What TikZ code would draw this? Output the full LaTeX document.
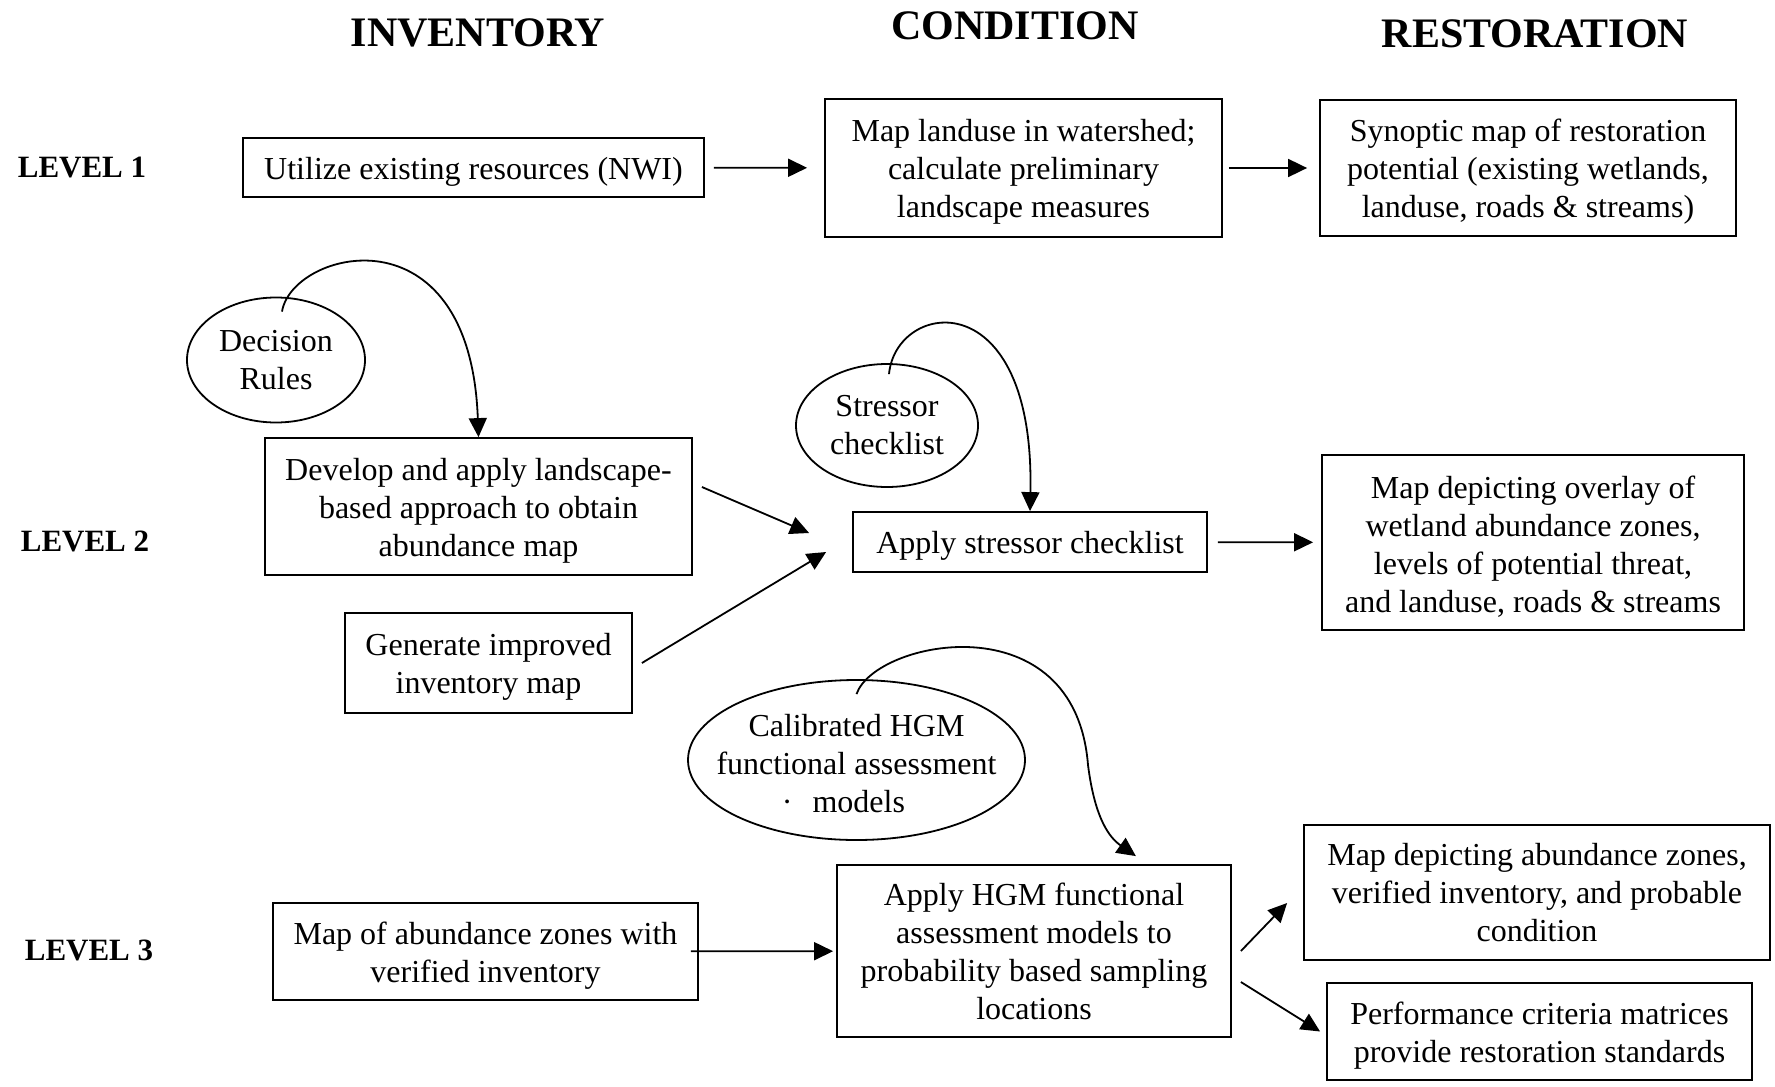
\documentclass[tikz,border=0pt]{standalone}
\usepackage{fontspec}
\setmainfont{Liberation Serif}
\usetikzlibrary{shapes.geometric,arrows.meta,positioning}
% taller first line, sets the text a little lower in its box
\newcommand{\lowr}{\rule{0pt}{15pt}}

\begin{document}
\begin{tikzpicture}
  [
    x=0.5pt, y=-0.5pt,
    stage/.style={draw, rectangle, line width=0.9pt, align=center, inner sep=1pt, font=\fontsize{16}{19}\selectfont},
    guide/.style={draw, ellipse, line width=0.9pt, align=center, inner sep=-20pt, font=\fontsize{16}{19}\selectfont},
    heading/.style={font=\fontsize{21}{25}\selectfont\bfseries},
    lvl/.style={font=\fontsize{15.5}{18}\selectfont\bfseries},
    flow/.style={->, line width=0.9pt, >={Triangle[length=9.5pt,width=9pt]}},
  ]
  \useasboundingbox (0,0) rectangle (1775,1086);

  \node (inv) [heading] at (478,33) {INVENTORY};
  \node (cond) [heading] at (1015,26) {CONDITION};
  \node (rest) [heading] at (1535,34) {RESTORATION};

  \node (lv1) [lvl] at (82,168) {LEVEL 1};
  \node (lv2) [lvl] at (85,541) {LEVEL 2};
  \node (lv3) [lvl] at (89,950) {LEVEL 3};

  % level 1
  \node (u1) [stage, minimum width=230.5pt, minimum height=29.5pt] at (473.5,167.5) {\lowr Utilize existing resources (NWI)};
  \node (c1) [stage, minimum width=198.5pt, minimum height=69pt] at (1023.5,168) {\lowr Map landuse in watershed;\\calculate preliminary\\landscape measures};
  \node (r1) [stage, minimum width=208pt, minimum height=68pt] at (1528,168) {\lowr Synoptic map of restoration\\potential (existing wetlands,\\landuse, roads \& streams)};

  % level 2
  \node (dr) [guide, minimum width=89pt, minimum height=62.5pt] at (276,360) {Decision\\Rules};
  \node (d2) [stage, minimum width=213.5pt, minimum height=68.5pt] at (478.5,506.5) {\lowr Develop and apply landscape-\\based approach to obtain\\abundance map};
  \node (g2) [stage, minimum width=143.5pt, minimum height=50pt] at (488.5,663) {\lowr Generate improved\\inventory map};
  \node (sc) [guide, minimum width=91pt, minimum height=61.5pt] at (887,425.5) {Stressor\\checklist};
  \node (a2) [stage, minimum width=177pt, minimum height=30pt] at (1030,542) {\lowr Apply stressor checklist};
  \node (r2) [stage, minimum width=211pt, minimum height=87.5pt] at (1533,542.5) {\lowr Map depicting overlay of\\wetland abundance zones,\\levels of potential threat,\\and landuse, roads \& streams};

  % level 3
  \node (hgm) [guide, minimum width=168.5pt, minimum height=80pt] at (856.5,760) {\lowr Calibrated HGM\\functional assessment\\·\hspace{10pt}models\hspace*{13pt}};
  \node (m3) [stage, minimum width=212.5pt, minimum height=48.5pt] at (485.5,951.5) {\lowr Map of abundance zones with\\verified inventory};
  \node (a3) [stage, minimum width=197pt, minimum height=86pt] at (1034,951) {Apply HGM functional\\assessment models to\\probability based sampling\\locations};
  \node (r3a) [stage, minimum width=233pt, minimum height=67.5pt] at (1537,892.5) {Map depicting abundance zones,\\verified inventory, and probable\\condition};
  \node (r3b) [stage, minimum width=212.5pt, minimum height=48.5pt] at (1539.5,1031.5) {\lowr Performance criteria matrices\\provide restoration standards};

  \draw [flow, shorten <=4.5pt, shorten >=8.5pt] (u1) -- (c1);
  \draw [flow, shorten <=3pt, shorten >=6pt] (c1) -- (r1);

  \draw [flow] ([xshift=3pt,yshift=-7.5pt]dr.north) .. controls (292,250) and (470,205) .. (d2.north);
  \draw [flow] ([xshift=4.5pt,yshift=9.75pt]d2.east) -- ([xshift=-21.5pt,yshift=4.5pt]a2.west);
  \draw [flow] ([xshift=4.5pt]g2.east) -- ([xshift=-13pt,yshift=-5pt]a2.west);
  \draw [flow] ([xshift=1pt,yshift=-5.5pt]sc.north) .. controls (896,300) and (1035,280) .. (a2.north);
  \draw [flow, shorten <=5pt, shorten >=4pt] (a2) -- (r2);

  \draw [flow] ([yshift=-7.5pt]hgm.north) .. controls (875,640) and (1075,600) .. (1088,765)
    .. controls (1095,820) and (1110,838) .. ([xshift=-48pt,yshift=4pt]a3.north east);
  \draw [flow, shorten <=-4pt, shorten >=1.5pt] (m3) -- (a3);
  \draw [flow] ([xshift=4.5pt]a3.east) -- ([xshift=-8pt,yshift=-5.25pt]r3a.west);
  \draw [flow] ([xshift=4.5pt,yshift=-15.5pt]a3.east) -- ([xshift=-3pt]r3b.west);
\end{tikzpicture}
\end{document}
